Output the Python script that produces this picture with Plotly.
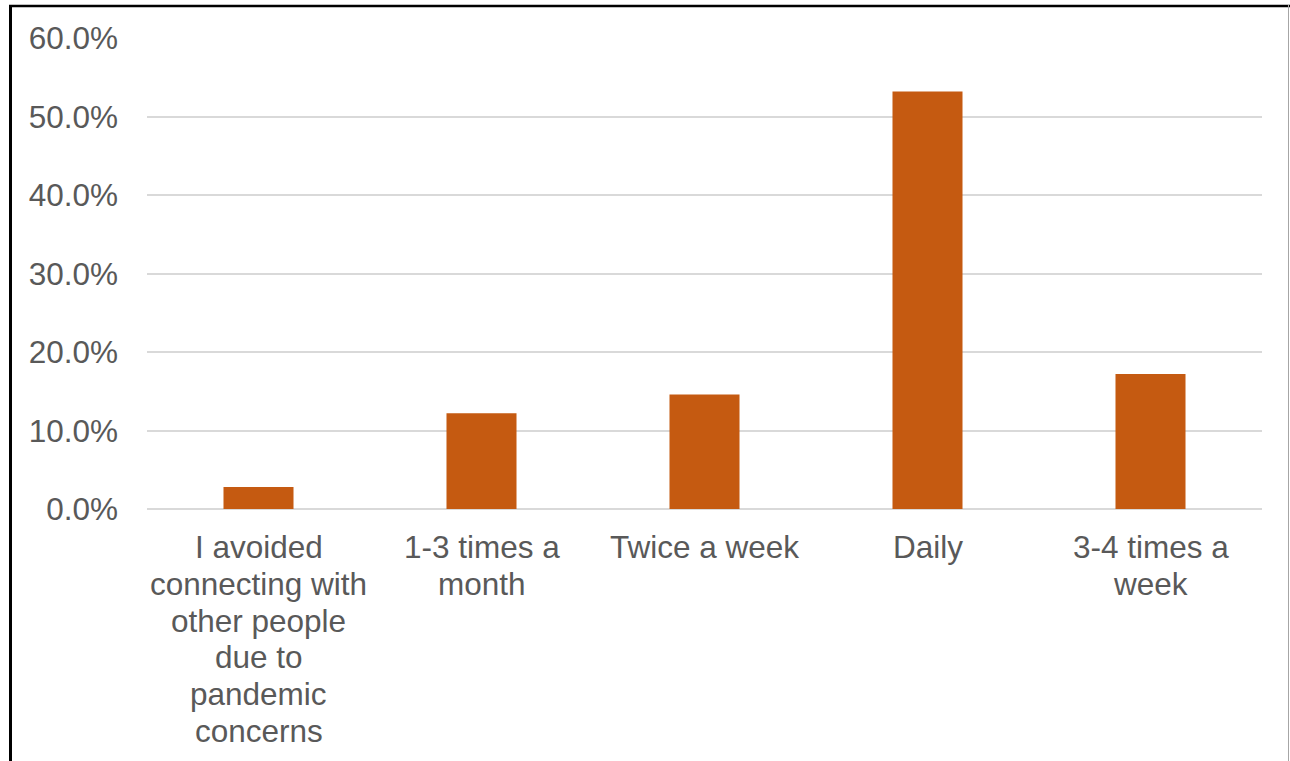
import plotly.graph_objects as go

# Survey responses: how often people connected with others
categories = [
    "I avoided<br>connecting with<br>other people<br>due to<br>pandemic<br>concerns",
    "1-3 times a<br>month",
    "Twice a week",
    "Daily",
    "3-4 times a<br>week",
]
shares = [2.8, 12.2, 14.6, 53.2, 17.2]  # percent of respondents

tick_values = [0, 10, 20, 30, 40, 50, 60]
tick_labels = ["0.0%", "10.0%", "20.0%", "30.0%", "40.0%", "50.0%", "60.0%"]

W, H = 1290, 761
ML, MR, MT, MB = 147, 28, 38, 252
PW = W - ML - MR
PH = H - MT - MB

text_color = "#595959"
font_family = "Liberation Sans, Arial, sans-serif"
font_size = 31.5
line_gap = 36.8      # vertical distance between wrapped label lines
first_line = 38      # first label line centre, below the baseline

fig = go.Figure(
    go.Bar(
        x=categories,
        y=shares,
        marker=dict(color="#C55A11", line=dict(width=0)),
        width=0.314,
        hoverinfo="y",
    )
)

# Category labels, one annotation per wrapped line for tight line spacing
annotations = []
for cat in categories:
    for i, part in enumerate(cat.split("<br>")):
        annotations.append(dict(
            x=cat, xref="x", y=0, yref="paper",
            text=part, showarrow=False,
            xanchor="center", yanchor="middle",
            yshift=-(first_line + i * line_gap),
            font=dict(family=font_family, size=font_size, color=text_color),
        ))

def px_x(px):
    return (px - ML) / PW

def px_y(py):
    return 1 - (py - MT) / PH

# Frame around the chart: heavy black on top and left, thin grey on the right
shapes = [
    dict(type="line", xref="paper", yref="paper",
         x0=px_x(9), x1=px_x(1290), y0=px_y(6), y1=px_y(6),
         line=dict(color="#000000", width=2.5)),
    dict(type="line", xref="paper", yref="paper",
         x0=px_x(10.5), x1=px_x(10.5), y0=px_y(5), y1=px_y(761),
         line=dict(color="#000000", width=3)),
    dict(type="line", xref="paper", yref="paper",
         x0=px_x(1288.5), x1=px_x(1288.5), y0=px_y(5), y1=px_y(761),
         line=dict(color="#A6A6A6", width=1)),
]

fig.update_layout(
    width=W,
    height=H,
    margin=dict(l=ML, r=MR, t=MT, b=MB, autoexpand=False),
    paper_bgcolor="white",
    plot_bgcolor="white",
    showlegend=False,
    font=dict(family=font_family, color=text_color, size=font_size),
    shapes=shapes,
    annotations=annotations,
    xaxis=dict(
        showgrid=False,
        showline=False,
        ticks="",
        showticklabels=False,
        fixedrange=True,
    ),
    yaxis=dict(
        range=[0, 60],
        tickvals=tick_values,
        ticktext=tick_labels,
        showgrid=True,
        gridcolor="#D9D9D9",
        gridwidth=2,
        zeroline=True,
        zerolinecolor="#D9D9D9",
        zerolinewidth=2,
        showline=False,
        ticks="",
        tickfont=dict(size=font_size, color=text_color),
        ticklabelstandoff=28,
        fixedrange=True,
    ),
)

fig.write_html("out.html")
